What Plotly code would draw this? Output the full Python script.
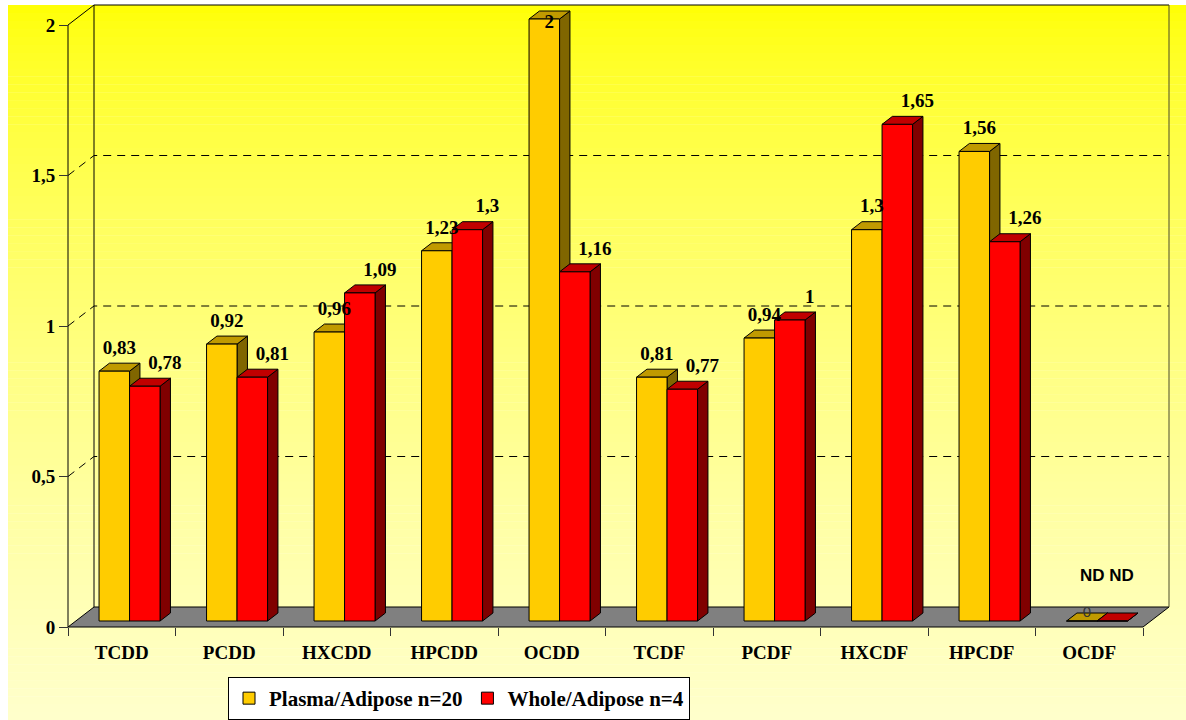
import numpy as np
import plotly.graph_objects as go

# ---- data -------------------------------------------------------------
categories = ["TCDD", "PCDD", "HXCDD", "HPCDD", "OCDD",
              "TCDF", "PCDF", "HXCDF", "HPCDF", "OCDF"]
plasma_adipose = [0.83, 0.92, 0.96, 1.23, 2.0, 0.81, 0.94, 1.3, 1.56, 0.0]
whole_adipose = [0.78, 0.81, 1.09, 1.3, 1.16, 0.77, 1.0, 1.65, 1.26, 0.0]
series_names = ["Plasma/Adipose n=20", "Whole/Adipose n=4"]
y_ticks = [0, 0.5, 1, 1.5, 2]
y_tick_labels = ["0", "0,5", "1", "1,5", "2"]
gridline_values = [0.5, 1, 1.5]
nd_note = "ND ND"

# ---- page / projection settings ----------------------------------------
W, H = 1186, 720
X0_PX, Y0_PX = 68, 627          # front-plane origin (category edge -0.5, value 0)
PX_PER_CAT, PX_PER_VAL = 107.5, 301.0
Y_MAX = 2.0

DX = 26 / PX_PER_CAT            # full depth of the box, in data units
DY = 20 / PX_PER_VAL
F1, F2 = 0.30, 0.70             # depth slice occupied by the bars
BAR_W = 30.5 / PX_PER_CAT

X_RANGE = [-0.5 - X0_PX / PX_PER_CAT, -0.5 + (W - X0_PX) / PX_PER_CAT]
Y_RANGE = [-(H - Y0_PX) / PX_PER_VAL, Y0_PX / PX_PER_VAL]

SERIF = "Liberation Serif"
SANS = "Liberation Sans"

styles = [
    dict(front="#FFCC00", top="#C09A00", side="#806600", dx_label=5),
    dict(front="#FF0000", top="#C00000", side="#800000", dx_label=20),
]

fig = go.Figure()


def poly_trace(polys, fill, line_color="#000000", width=1):
    xs, ys = [], []
    for p in polys:
        xs += [q[0] for q in p] + [p[0][0], None]
        ys += [q[1] for q in p] + [p[0][1], None]
    return go.Scatter(x=xs, y=ys, mode="lines", fill="toself", fillcolor=fill,
                      line=dict(color=line_color, width=width),
                      hoverinfo="skip", showlegend=False)


def line_trace(xs, ys, color="#000000", width=1, dash="solid"):
    return go.Scatter(x=xs, y=ys, mode="lines",
                      line=dict(color=color, width=width, dash=dash),
                      hoverinfo="skip", showlegend=False)


# ---- box: floor, walls, grid -------------------------------------------
x_l, x_r = -0.5, len(categories) - 0.5
fig.add_trace(poly_trace([[(x_l, 0), (x_r, 0), (x_r + DX, DY), (x_l + DX, DY)]],
                         "#808080"))

for g in gridline_values:
    fig.add_trace(line_trace([x_l, x_l + DX, x_r + DX], [g, g + DY, g + DY],
                             dash="8px,6px"))

# back wall edges
fig.add_trace(line_trace([x_l + DX, x_l + DX, x_r + DX], [DY, Y_MAX + DY, Y_MAX + DY]))
fig.add_trace(line_trace([x_r + DX, x_r + DX], [DY, Y_MAX + DY], color="#4a4a2a"))
# front value axis and its top bevel
fig.add_trace(line_trace([x_l, x_l, x_l + DX], [0, Y_MAX, Y_MAX + DY]))

# ---- 3-D bars -----------------------------------------------------------
base = F1 * DY
ddx, ddy = (F2 - F1) * DX, (F2 - F1) * DY
for s, values in enumerate([plasma_adipose, whole_adipose]):
    fronts, tops, sides = [], [], []
    for i, v in enumerate(values):
        c = i + F1 * DX
        x0 = c - BAR_W if s == 0 else c
        x1 = x0 + BAR_W
        y1 = base + v
        fronts.append([(x0, base), (x1, base), (x1, y1), (x0, y1)])
        tops.append([(x0, y1), (x1, y1), (x1 + ddx, y1 + ddy), (x0 + ddx, y1 + ddy)])
        sides.append([(x1, base), (x1 + ddx, base + ddy), (x1 + ddx, y1 + ddy), (x1, y1)])
    st = styles[s]
    fig.add_trace(poly_trace(sides, st["side"]))
    fig.add_trace(poly_trace(tops, st["top"]))
    fig.add_trace(poly_trace(fronts, st["front"]))

# ---- value labels -------------------------------------------------------
label_cap = (Y0_PX - 23) / PX_PER_VAL
for s, values in enumerate([plasma_adipose, whole_adipose]):
    vals = np.array(values)
    centers = np.arange(len(vals)) + F1 * DX + (-0.5 if s == 0 else 0.5) * BAR_W
    lx = centers + styles[s]["dx_label"] / PX_PER_CAT
    ly = np.minimum(vals + base + 22 / PX_PER_VAL, label_cap)
    nz = vals > 0
    fig.add_trace(go.Scatter(
        x=lx[nz], y=ly[nz], mode="text",
        text=[f"{v:g}".replace(".", ",") for v in vals[nz]],
        textfont=dict(family=SERIF, size=19, color="#000000", weight="bold"),
        hoverinfo="skip", showlegend=False, cliponaxis=False))
    if s == 0:
        fig.add_trace(go.Scatter(
            x=lx[~nz], y=vals[~nz] + base + 8 / PX_PER_VAL, mode="text",
            text=[f"{v:g}" for v in vals[~nz]],
            textfont=dict(family=SANS, size=15, color="#333333"),
            hoverinfo="skip", showlegend=False, cliponaxis=False))

fig.add_annotation(x=len(categories) - 1, y=0, xref="x", yref="y",
                   text=nd_note, showarrow=False, xshift=18, yshift=52,
                   font=dict(family=SANS, size=17, color="#000000", weight="bold"))

# ---- legend entries -----------------------------------------------------
for name, st in zip(series_names, styles):
    fig.add_trace(go.Bar(x=[None], y=[None], name=name,
                         marker=dict(color=st["front"], line=dict(color="#000000", width=1)),
                         hoverinfo="skip", showlegend=True))

# ---- background gradient ------------------------------------------------
n_bands = 90
top_px, left_px = 5, 8
for k in range(n_bands):
    a = top_px + (H - top_px) * k / n_bands
    b = top_px + (H - top_px) * (k + 1) / n_bands
    t = (k + 0.5) / n_bands
    blue = int(round(204 * t ** 0.65))
    fig.add_shape(type="rect", xref="paper", yref="paper", layer="below",
                  x0=left_px / W, x1=1, y0=1 - b / H - 0.0005, y1=1 - a / H,
                  fillcolor=f"rgb(255,255,{blue})", line=dict(width=0))

# ---- layout -------------------------------------------------------------
fig.update_layout(
    width=W, height=H,
    margin=dict(l=0, r=0, t=0, b=0, autoexpand=False),
    paper_bgcolor="#FFFFFF", plot_bgcolor="#FFFFFF",
    hovermode=False, showlegend=True,
    xaxis=dict(type="linear", range=X_RANGE, anchor="free", position=(H - Y0_PX) / H,
               showgrid=False, zeroline=False, showline=False,
               tickmode="array", tickvals=list(range(len(categories))), ticktext=categories,
               ticks="", ticklabelstandoff=12,
               tickfont=dict(family=SERIF, size=19, color="#000000", weight="bold"),
               minor=dict(ticks="outside", tick0=-0.5, dtick=1, ticklen=8,
                          tickcolor="#333333", tickwidth=1, showgrid=False),
               fixedrange=True),
    yaxis=dict(type="linear", range=Y_RANGE, anchor="free", position=X0_PX / W,
               showgrid=False, zeroline=False, showline=False,
               tickmode="array", tickvals=y_ticks, ticktext=y_tick_labels,
               ticks="outside", ticklen=9, tickcolor="#333333", tickwidth=1,
               tickfont=dict(family=SERIF, size=19, color="#000000", weight="bold"),
               fixedrange=True),
    legend=dict(orientation="h", x=228 / W, y=1 - 677 / H, xanchor="left", yanchor="top",
                bgcolor="#FFFFFF", bordercolor="#000000", borderwidth=1,
                font=dict(family=SERIF, size=21, color="#000000", weight="bold")),
)

fig.write_html("out.html")
